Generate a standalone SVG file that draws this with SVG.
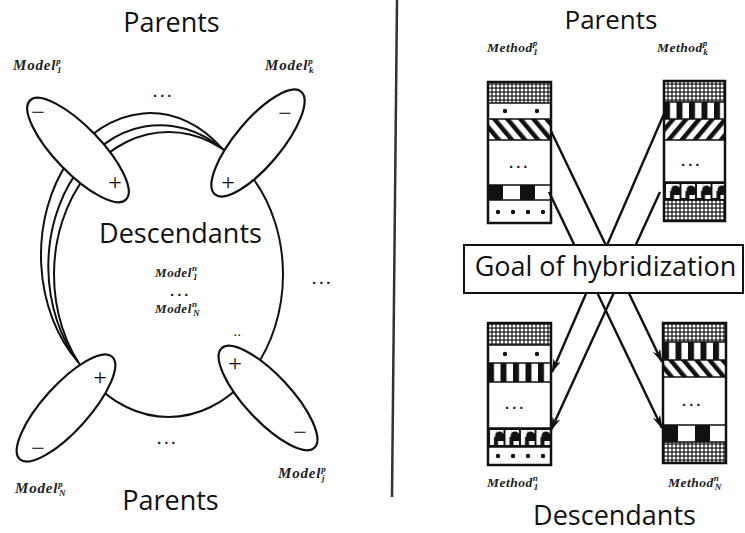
<svg xmlns="http://www.w3.org/2000/svg" width="745" height="533" viewBox="0 0 745 533">
<style>
.big{font-family:"Open Sans","Liberation Sans",sans-serif;font-size:27px;fill:#111}
.ml{font-family:"Liberation Serif",serif;font-style:italic;font-weight:bold;font-size:15px;fill:#222;letter-spacing:0.8px}
.mm{font-family:"Liberation Serif",serif;font-style:italic;font-weight:bold;font-size:13px;fill:#222;letter-spacing:0.6px}
.mt{font-family:"Liberation Serif",serif;font-style:italic;font-weight:bold;font-size:13.5px;fill:#222;letter-spacing:0.5px}
.s{font-size:9px}
.dots{font-family:"Liberation Sans",sans-serif;font-weight:bold;font-size:15px;fill:#222;letter-spacing:3px}
.pm{font-family:"Liberation Serif",serif;font-size:24px;fill:#000}
.el{fill:#fff;stroke:#111;stroke-width:2.2}
.circ{fill:none;stroke:#111;stroke-width:2}
.blk{fill:none;stroke:#111;stroke-width:2.5}
.sep{stroke:#111;stroke-width:1.5}
.con{stroke:#111;stroke-width:2.4;fill:none;marker-end:url(#ah)}
</style>
<defs>
<marker id="ah" viewBox="0 0 14 8" refX="13" refY="4" markerWidth="14" markerHeight="8" markerUnits="userSpaceOnUse" orient="auto">
<path d="M0,0 L14,4 L0,8 L4,4 z" fill="#111"/>
</marker>
<pattern id="xh" width="4" height="4" patternUnits="userSpaceOnUse">
<rect width="4" height="4" fill="#333"/>
<circle cx="2" cy="2" r="1.5" fill="#fff"/>
</pattern>
<pattern id="dl" width="10" height="10" patternUnits="userSpaceOnUse" patternTransform="rotate(-40)">
<rect width="10" height="10" fill="#fff"/>
<rect width="4.5" height="10" fill="#111"/>
</pattern>
<pattern id="dr" width="10" height="10" patternUnits="userSpaceOnUse" patternTransform="rotate(40)">
<rect width="10" height="10" fill="#fff"/>
<rect width="4.5" height="10" fill="#111"/>
</pattern>
<pattern id="vs" x="664" width="12.5" height="20" patternUnits="userSpaceOnUse">
<rect width="12.5" height="20" fill="#fff"/>
<rect width="6" height="20" fill="#111"/>
</pattern>
<pattern id="vs2" x="488" width="12.5" height="20" patternUnits="userSpaceOnUse">
<rect width="12.5" height="20" fill="#fff"/>
<rect width="6" height="20" fill="#111"/>
</pattern>
<pattern id="vs3" x="663" width="12.5" height="20" patternUnits="userSpaceOnUse">
<rect width="12.5" height="20" fill="#fff"/>
<rect width="6" height="20" fill="#111"/>
</pattern>
<pattern id="bu" x="664" y="182" width="15.5" height="18" patternUnits="userSpaceOnUse">
<rect width="15.5" height="18" fill="#111"/>
<rect x="2" y="2" width="6" height="7" fill="#fff"/>
<path d="M8,2 H15.5 V7 A4 4 0 0 1 8 7 Z" fill="#fff"/>
<rect x="2" y="9" width="4" height="7" fill="#fff"/>
<circle cx="11.5" cy="8" r="4.5" fill="#111"/>
<rect x="10" y="13" width="5.5" height="4" fill="#fff"/>
</pattern>
<pattern id="bu2" x="488" y="428" width="15.5" height="19" patternUnits="userSpaceOnUse">
<rect width="15.5" height="19" fill="#111"/>
<rect x="2" y="2" width="6" height="7" fill="#fff"/>
<path d="M8,2 H15.5 V7 A4 4 0 0 1 8 7 Z" fill="#fff"/>
<rect x="2" y="9" width="4" height="8" fill="#fff"/>
<circle cx="11.5" cy="8" r="4.5" fill="#111"/>
<rect x="10" y="13" width="5.5" height="4" fill="#fff"/>
</pattern>
</defs>
<rect width="745" height="533" fill="#fff"/>

<g id="divider"><line x1="397" y1="0" x2="392" y2="497" stroke="#333" stroke-width="2.5"/></g>

<g id="left-titles">
<text class="big" x="171.5" y="32" text-anchor="middle">Parents</text>
<text class="big" x="170.5" y="510" text-anchor="middle">Parents</text>
</g>

<g id="descendants-circle">
<ellipse class="circ" cx="168.5" cy="274.5" rx="114.5" ry="142.5"/>
<path class="circ" d="M78,361.8 A112 141 0 0 1 222,148.5"/>
<path class="circ" d="M78,361.8 A109 142 0 0 1 222,148.5"/>
<text class="big" x="180.5" y="243" text-anchor="middle">Descendants</text>
<text class="mm" x="155" y="277">Model<tspan class="s" dy="-6">n</tspan><tspan class="s" dx="-4.5" dy="9">1</tspan></text>
<text class="dots" x="170" y="296">...</text>
<text class="mm" x="155" y="313">Model<tspan class="s" dy="-6">n</tspan><tspan class="s" dx="-4.5" dy="9">N</tspan></text>
</g>

<g id="model-1">
<ellipse class="el" cx="78" cy="150" rx="69" ry="23" transform="rotate(46 78 150)"/>
<text class="pm" x="38" y="120" text-anchor="middle">−</text>
<text class="pm" x="115" y="190" text-anchor="middle">+</text>
<text class="ml" x="13" y="70">Model<tspan class="s" dy="-6">p</tspan><tspan class="s" dx="-4.5" dy="9">1</tspan></text>
</g>
<g id="model-k">
<ellipse class="el" cx="258" cy="143" rx="67" ry="23" transform="rotate(-50 258 143)"/>
<text class="pm" x="285" y="121" text-anchor="middle">−</text>
<text class="pm" x="228" y="190" text-anchor="middle">+</text>
<text class="ml" x="265" y="70">Model<tspan class="s" dy="-6">p</tspan><tspan class="s" dx="-4.5" dy="9">k</tspan></text>
</g>
<g id="model-N">
<ellipse class="el" cx="66" cy="408" rx="69" ry="23" transform="rotate(-48 66 408)"/>
<text class="pm" x="100" y="385" text-anchor="middle">+</text>
<text class="pm" x="38" y="456" text-anchor="middle">−</text>
<text class="ml" x="15" y="493">Model<tspan class="s" dy="-6">p</tspan><tspan class="s" dx="-4.5" dy="9">N</tspan></text>
</g>
<g id="model-j">
<ellipse class="el" cx="268" cy="398" rx="68" ry="23" transform="rotate(47 268 398)"/>
<text class="pm" x="235" y="371" text-anchor="middle">+</text>
<text class="pm" x="300" y="440" text-anchor="middle">−</text>
<text class="ml" x="278" y="478">Model<tspan class="s" dy="-6">p</tspan><tspan class="s" dx="-4.5" dy="9">j</tspan></text>
</g>

<g id="left-dots">
<text class="dots" x="153" y="97">...</text>
<text class="dots" x="312" y="284">...</text>
<text class="dots" x="157" y="444">...</text>
<text class="dots" x="234" y="336" style="font-size:10px;letter-spacing:1px">..</text>
</g>

<g id="right-titles">
<text class="big" x="611" y="29" text-anchor="middle" style="font-size:26px">Parents</text>
<text class="big" x="614.5" y="525" text-anchor="middle">Descendants</text>
</g>

<g id="connectors">
<line class="con" x1="551" y1="131" x2="662" y2="362"/>
<line class="con" x1="549" y1="192" x2="662" y2="428"/>
<line class="con" x1="667" y1="107" x2="552" y2="372"/>
<line class="con" x1="660" y1="192" x2="551" y2="430"/>
</g>

<g id="goal">
<rect x="464" y="245" width="279" height="48" fill="#fff" stroke="#111" stroke-width="2"/>
<text class="big" x="605.5" y="276" text-anchor="middle">Goal of hybridization</text>
</g>

<g id="method-p1">
<rect x="488" y="82" width="63" height="21" fill="url(#xh)"/>
<rect x="488" y="103" width="63" height="16" fill="#fff"/>
<circle cx="505" cy="111" r="2.2" fill="#111"/><circle cx="537" cy="111" r="2.2" fill="#111"/>
<rect x="488" y="119" width="63" height="21" fill="url(#dl)"/>
<rect x="488" y="140" width="63" height="45" fill="#fff"/>
<rect x="488" y="185" width="15" height="15" fill="#111"/><rect x="520" y="185" width="15" height="15" fill="#111"/>
<rect x="488" y="200" width="63" height="23" fill="#fff"/>
<circle cx="498" cy="212" r="2.2" fill="#111"/><circle cx="513" cy="212" r="2.2" fill="#111"/><circle cx="528" cy="212" r="2.2" fill="#111"/><circle cx="543" cy="212" r="2.2" fill="#111"/>
<path class="sep" d="M488,103H551M488,119H551M488,140H551M488,185H551M488,200H551"/>
<rect class="blk" x="488" y="82" width="63" height="141"/>
<text class="dots" x="509" y="168">...</text>
<text class="mt" x="487" y="52">Method<tspan class="s" dy="-6">p</tspan><tspan class="s" dx="-4.5" dy="9">1</tspan></text>
</g>

<g id="method-pk">
<rect x="664" y="81" width="61" height="21" fill="url(#xh)"/>
<rect x="664" y="102" width="61" height="17" fill="url(#vs)"/>
<rect x="664" y="119" width="61" height="21" fill="url(#dr)"/>
<rect x="664" y="140" width="61" height="42" fill="#fff"/>
<rect x="664" y="182" width="61" height="18" fill="url(#bu)"/>
<rect x="664" y="200" width="61" height="21" fill="url(#xh)"/>
<path class="sep" d="M664,102H725M664,119H725M664,140H725M664,182H725M664,200H725"/>
<rect class="blk" x="664" y="81" width="61" height="140"/>
<text class="dots" x="681" y="166">...</text>
<text class="mt" x="657" y="52">Method<tspan class="s" dy="-6">p</tspan><tspan class="s" dx="-4.5" dy="9">k</tspan></text>
</g>

<g id="method-n1">
<rect x="488" y="323" width="63" height="22" fill="url(#xh)"/>
<rect x="488" y="345" width="63" height="18" fill="#fff"/>
<circle cx="505" cy="354" r="2.2" fill="#111"/><circle cx="537" cy="354" r="2.2" fill="#111"/>
<rect x="488" y="363" width="63" height="19" fill="url(#vs2)"/>
<rect x="488" y="382" width="63" height="46" fill="#fff"/>
<rect x="488" y="428" width="63" height="19" fill="url(#bu2)"/>
<rect x="488" y="447" width="63" height="18" fill="#fff"/>
<circle cx="498" cy="456" r="2.2" fill="#111"/><circle cx="513" cy="456" r="2.2" fill="#111"/><circle cx="528" cy="456" r="2.2" fill="#111"/><circle cx="543" cy="456" r="2.2" fill="#111"/>
<path class="sep" d="M488,345H551M488,363H551M488,382H551M488,428H551M488,447H551"/>
<rect class="blk" x="488" y="323" width="63" height="142"/>
<text class="dots" x="505" y="409">...</text>
<text class="mt" x="487" y="487">Method<tspan class="s" dy="-6">n</tspan><tspan class="s" dx="-4.5" dy="9">1</tspan></text>
</g>

<g id="method-nN">
<rect x="663" y="323" width="63" height="19" fill="url(#xh)"/>
<rect x="663" y="342" width="63" height="18" fill="url(#vs3)"/>
<rect x="663" y="360" width="63" height="17" fill="url(#dl)"/>
<rect x="663" y="377" width="63" height="48" fill="#fff"/>
<rect x="663" y="425" width="63" height="17" fill="#fff"/>
<rect x="663" y="425" width="15" height="17" fill="#111"/><rect x="695" y="425" width="15" height="17" fill="#111"/>
<rect x="663" y="442" width="63" height="21" fill="url(#xh)"/>
<path class="sep" d="M663,342H726M663,360H726M663,377H726M663,425H726M663,442H726"/>
<rect class="blk" x="663" y="323" width="63" height="140"/>
<text class="dots" x="682" y="406">...</text>
<text class="mt" x="668" y="487">Method<tspan class="s" dy="-6">n</tspan><tspan class="s" dx="-4.5" dy="9">N</tspan></text>
</g>
</svg>
